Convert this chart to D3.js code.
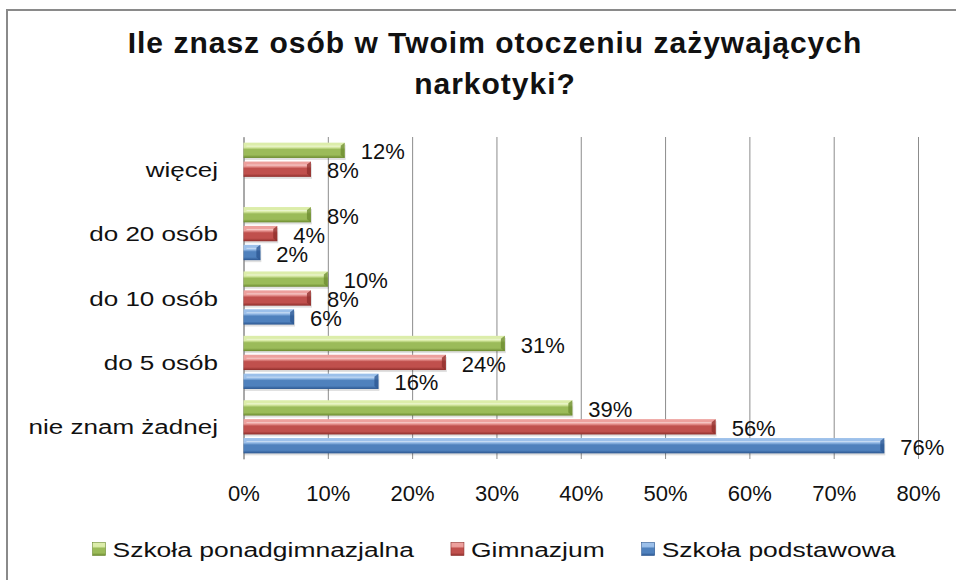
<!DOCTYPE html>
<html lang="pl">
<head>
<meta charset="UTF-8">
<title>narkotyki</title>
<script src="https://cdn.jsdelivr.net/npm/d3@7"></script>
<style>
    body { margin: 0; background: #fff; }
    svg { display: block; }
    text { font-family: "Liberation Sans", Arial, sans-serif; fill: #111; }
</style>
</head>
<body>
<svg width="956" height="580"></svg>

<script>
    // dane (w %)
    var categories = ["więcej", "do 20 osób", "do 10 osób", "do 5 osób", "nie znam żadnej"];
    var seriesNames = ["Szkoła ponadgimnazjalna", "Gimnazjum", "Szkoła podstawowa"];
    var ponadgimnazjalna = [12, 8, 10, 31, 39];
    var gimnazjum = [8, 4, 8, 24, 56];
    var podstawowa = [null, 2, 6, 16, 76];
    var tickValues = [0, 10, 20, 30, 40, 50, 60, 70, 80];
    var titleLines = ["Ile znasz osób w Twoim otoczeniu zażywających", "narkotyki?"];

    var seriesValues = [ponadgimnazjalna, gimnazjum, podstawowa];
    var colors = [
        { light: "#dcedaa", base: "#9bbb59", dark: "#6b8a2f" },
        { light: "#eda09d", base: "#c0504d", dark: "#8e2e2b" },
        { light: "#9cc0ea", base: "#4f81bd", dark: "#2b5690" }
    ];

    var plotLeft = 243.5, plotRight = 918, plotTop = 137, plotBottom = 459;
    var svg = d3.select("svg");

    // ramka
    svg.append("path")
        .attr("d", "M7,580 V10 H956")
        .attr("fill", "none")
        .attr("stroke", "#8a8a8a")
        .attr("stroke-width", 2);

    // tytul
    svg.selectAll(".title")
        .data(titleLines)
        .enter()
        .append("text")
        .attr("class", "title")
        .attr("x", 495)
        .attr("y", function(d, i) { return 53 + i * 41; })
        .attr("text-anchor", "middle")
        .style("font-size", "30px")
        .style("font-weight", "bold")
        .style("letter-spacing", "1px")
        .text(function(d) { return d; });

    // gradienty
    var defs = svg.append("defs");
    colors.forEach(function(c, i) {
        var g = defs.append("linearGradient")
            .attr("id", "grad" + i)
            .attr("x1", 0).attr("y1", 0).attr("x2", 0).attr("y2", 1);
        g.append("stop").attr("offset", "0%").attr("stop-color", c.light);
        g.append("stop").attr("offset", "30%").attr("stop-color", c.light);
        g.append("stop").attr("offset", "45%").attr("stop-color", c.base);
        g.append("stop").attr("offset", "80%").attr("stop-color", c.base);
        g.append("stop").attr("offset", "100%").attr("stop-color", c.dark);
    });

    var x = d3.scaleLinear().domain([0, 80]).range([plotLeft, plotRight]);
    var y = d3.scaleBand().domain(categories).range([plotTop, plotBottom])
        .paddingInner(0.175).paddingOuter(0.0875);
    var ySub = d3.scaleBand().domain(seriesNames).range([0, y.bandwidth()])
        .paddingInner(0.19);

    // siatka
    svg.append("g")
        .attr("transform", "translate(0," + plotBottom + ")")
        .call(d3.axisBottom(x).tickValues(tickValues).tickSize(-(plotBottom - plotTop)).tickFormat(""))
        .call(function(g) {
            g.select(".domain").remove();
            g.selectAll("line").attr("stroke", "#8c8c8c");
        });

    // etykiety osi X
    svg.append("g")
        .attr("transform", "translate(0," + plotBottom + ")")
        .call(d3.axisBottom(x).tickValues(tickValues).tickSize(0).tickPadding(0)
            .tickFormat(function(d) { return d + "%"; }))
        .call(function(g) {
            g.select(".domain").remove();
            g.selectAll("text")
                .attr("y", 42)
                .attr("dy", null)
                .style("font-size", "22px")
                .style("font-family", "'Liberation Sans', Arial, sans-serif")
                .attr("fill", "#111");
        });

    // os Y
    var labelScale = 1.24;
    svg.append("g")
        .attr("transform", "translate(" + plotLeft + ",0)")
        .call(d3.axisLeft(y).tickSize(0).tickPadding(0))
        .call(function(g) {
            g.select(".domain").attr("stroke", "#8c8c8c");
            g.selectAll("text")
                .attr("x", -25.5 / labelScale)
                .attr("dy", "0.36em")
                .attr("transform", "scale(" + labelScale + ",1)")
                .style("font-size", "21px")
                .style("font-family", "'Liberation Sans', Arial, sans-serif")
                .attr("fill", "#111");
        });

    // slupki
    var rows = [];
    categories.forEach(function(cat, ci) {
        seriesNames.forEach(function(s, si) {
            var v = seriesValues[si][ci];
            if (v != null) rows.push({ cat: cat, series: s, si: si, value: v });
        });
    });

    var bars = svg.append("g").selectAll("g")
        .data(rows)
        .enter()
        .append("g")
        .attr("transform", function(d) {
            return "translate(" + plotLeft + "," + (y(d.cat) + ySub(d.series)) + ")";
        });

    var bh = ySub.bandwidth();

    // cien
    bars.append("rect")
        .attr("x", 1)
        .attr("y", 2)
        .attr("width", function(d) { return x(d.value) - plotLeft; })
        .attr("height", bh)
        .attr("fill", "#000")
        .attr("opacity", 0.12);

    bars.append("rect")
        .attr("width", function(d) { return x(d.value) - plotLeft; })
        .attr("height", bh)
        .attr("fill", function(d) { return "url(#grad" + d.si + ")"; });

    // skos na koncu slupka
    bars.append("path")
        .attr("d", function(d) {
            var w = x(d.value) - plotLeft;
            return "M" + (w - 4) + ",3 L" + w + ",0 L" + w + "," + bh + " L" + (w - 4) + "," + (bh - 3) + "Z";
        })
        .attr("fill", function(d) { return colors[d.si].dark; })
        .attr("opacity", 0.75);

    bars.append("line")
        .attr("x1", 3)
        .attr("x2", function(d) { return Math.max(3, x(d.value) - plotLeft - 4); })
        .attr("y1", 3.5)
        .attr("y2", 3.5)
        .attr("stroke", "#fff")
        .attr("stroke-opacity", 0.45)
        .attr("stroke-width", 1);

    // etykiety wartosci
    bars.append("text")
        .attr("x", function(d) { return x(d.value) - plotLeft + 16; })
        .attr("y", bh + 1.5)
        .style("font-size", "22px")
        .text(function(d) { return d.value + "%"; });

    // legenda
    var legendScale = 1.26;
    var legend = svg.append("g");
    var items = legend.selectAll("g")
        .data(seriesNames)
        .enter()
        .append("g");

    items.append("rect")
        .attr("x", 0)
        .attr("y", -6.5)
        .attr("width", 13)
        .attr("height", 13)
        .attr("fill", function(d, i) { return "url(#grad" + i + ")"; })
        .attr("stroke", function(d, i) { return colors[i].dark; })
        .attr("stroke-width", 0.6);

    items.append("text")
        .attr("x", 20 / legendScale)
        .attr("y", 7.5)
        .attr("transform", "scale(" + legendScale + ",1)")
        .style("font-size", "21px")
        .text(function(d) { return d; });

    var pos = 0, offsets = [];
    items.each(function() {
        var w = 20 + d3.select(this).select("text").node().getComputedTextLength() * legendScale;
        offsets.push(pos);
        pos += w + 37;
    });
    var legendWidth = pos - 37;
    var legendX = 494 - legendWidth / 2;
    items.attr("transform", function(d, i) {
        return "translate(" + (legendX + offsets[i]) + ",549)";
    });
</script>
</body>
</html>
